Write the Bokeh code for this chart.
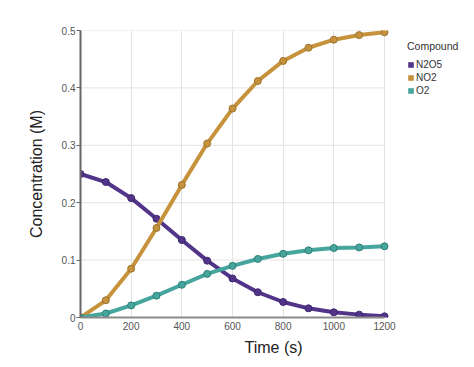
from bokeh.plotting import figure
from bokeh.models import Range1d, Legend, LegendItem, FixedTicker
from bokeh.embed import file_html
from bokeh.resources import INLINE

time_s = [0, 100, 200, 300, 400, 500, 600, 700, 800, 900, 1000, 1100, 1200]
n2o5 = [0.250, 0.236, 0.208, 0.172, 0.135, 0.099, 0.068, 0.044, 0.027, 0.016, 0.009, 0.005, 0.002]
no2 = [0.000, 0.030, 0.085, 0.156, 0.231, 0.303, 0.364, 0.412, 0.447, 0.470, 0.484, 0.492, 0.497]
o2 = [0.000, 0.007, 0.021, 0.038, 0.057, 0.076, 0.090, 0.102, 0.111, 0.117, 0.121, 0.122, 0.124]

series_names = ["N2O5", "NO2", "O2"]
series_values = [n2o5, no2, o2]
colors = ["#523589", "#c6923c", "#46a59c"]
edge_colors = ["#3e2670", "#9c7430", "#2f8077"]

x_ticks = [0, 200, 400, 600, 800, 1000, 1200]
y_ticks = [0, 0.1, 0.2, 0.3, 0.4, 0.5]
y_tick_labels = {0: "0", 0.1: "0.1", 0.2: "0.2", 0.3: "0.3", 0.4: "0.4", 0.5: "0.5"}

FONT = "Liberation Sans"
GRID = "#e3e3e3"

# frame widened to the right so the legend sits inside it; axis/grid bounded to data extent
X_END = 1200 * 386 / 304
p = figure(frame_width=386, frame_height=287, output_backend="svg", toolbar_location=None,
           x_range=Range1d(0, X_END), y_range=Range1d(0, 0.5),
           min_border_left=80, min_border_right=8, min_border_top=30, min_border_bottom=42)
p.outline_line_color = None
p.background_fill_color = "white"
p.border_fill_color = "white"

# horizontal grid lines limited to the time extent
p.segment(x0=time_s[0], x1=time_s[-1], y0=y_ticks, y1=y_ticks,
          line_color=GRID, line_width=1, level="underlay")

for vals, c, ec in zip(series_values, colors, edge_colors):
    p.line(time_s, vals, line_color=c, line_width=4)
    p.scatter(time_s, vals, size=7, fill_color=c, line_color=ec, line_width=1)

# legend swatches (zero-size rects, only visible in the legend)
items = []
for name, vals, c in zip(series_names, series_values, colors):
    r = p.rect(x=time_s, y=vals, width=0, height=0, fill_color=c, line_color=None)
    items.append(LegendItem(label=name, renderers=[r]))

legend = Legend(items=items, title="Compound", location=(327, 220),
                margin=0, padding=0, spacing=0,
                glyph_width=7, glyph_height=7, label_height=13, label_standoff=2,
                title_standoff=6, border_line_color=None, background_fill_alpha=0,
                inactive_fill_alpha=0,
                title_text_font=FONT, title_text_font_size="10.5px", title_text_font_style="normal",
                title_text_color="#333333",
                label_text_font=FONT, label_text_font_size="10px", label_text_color="#333333")
p.add_layout(legend, "center")

p.xaxis.ticker = FixedTicker(ticks=x_ticks)
p.yaxis.ticker = FixedTicker(ticks=y_ticks)
p.yaxis.major_label_overrides = y_tick_labels
p.xaxis.bounds = (0, 1200)
p.yaxis.bounds = (0, 0.5)
p.xaxis.axis_label = "Time (s)"
p.yaxis.axis_label = "Concentration (M)"

for ax in (p.xaxis, p.yaxis):
    ax.axis_label_text_font = FONT
    ax.axis_label_text_font_size = "16px"
    ax.axis_label_text_font_style = "normal"
    ax.axis_label_text_color = "#222222"
    ax.major_label_text_font = FONT
    ax.major_label_text_font_size = "10px"
    ax.major_label_text_color = "#555555"
    ax.minor_tick_line_color = None
    ax.axis_line_width = 2

p.xaxis.axis_line_color = "#8a8a8a"
p.xaxis.major_tick_line_color = None
p.xaxis.major_tick_out = 0
p.xaxis.major_label_standoff = 4
p.xaxis.axis_label_standoff = 6

p.yaxis.axis_line_color = "#666666"
p.yaxis.major_tick_line_color = "#666666"
p.yaxis.major_tick_out = 4
p.yaxis.major_tick_in = 0
p.yaxis.major_label_standoff = 1
p.yaxis.axis_label_standoff = 14

p.xgrid.grid_line_color = GRID
p.xgrid.grid_line_width = 1
p.ygrid.grid_line_color = None

open("out.html", "w").write(file_html(p, INLINE))
